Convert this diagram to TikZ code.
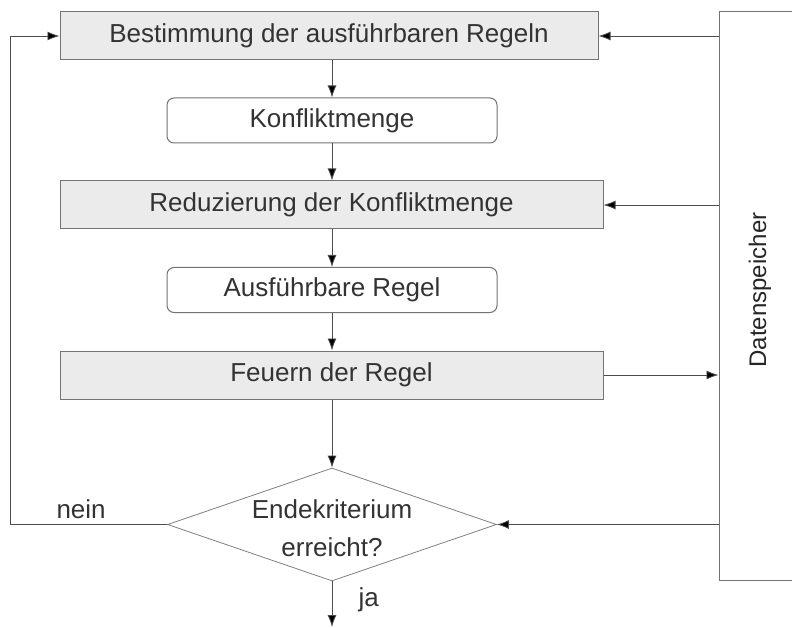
\documentclass[tikz,border=0pt]{standalone}
\usepackage{fontspec}
\setmainfont{Liberation Sans}
\usetikzlibrary{arrows.meta,shapes.geometric}
\begin{document}
\begin{tikzpicture}[x=1pt,y=-1pt,
  line/.style={draw=black!70, line width=0.8pt},
  arr/.style={line, -{Latex[length=12pt,width=9pt,fill=black]}},
  txt/.style={font=\fontsize{26}{38}\selectfont, text=black!80},
  graybox/.style={txt, draw=black!55, fill=black!8, line width=1pt, minimum height=48pt, inner sep=0pt},
  roundbox/.style={txt, draw=black!55, fill=white, line width=1pt, rounded corners=7pt, minimum width=330pt, minimum height=45pt, inner sep=0pt},
  decision/.style={diamond, draw=black!50, line width=0.8pt, fill=white, inner sep=0pt, minimum width=329pt, minimum height=113pt},
  store/.style={draw=black!55, line width=1pt, fill=white, inner sep=0pt, minimum width=90pt, minimum height=568pt}
]
\useasboundingbox (0,0) rectangle (792,628);
\node[graybox, minimum width=538pt] (b1) at (329,36) {Bestimmung der ausführbaren Regeln};
\node[roundbox] (b2) at (332,120.5) {Konfliktmenge};
\node[graybox, minimum width=543pt] (b3) at (331.5,205) {Reduzierung der Konfliktmenge};
\node[roundbox] (b4) at (332,290) {Ausführbare Regel};
\node[graybox, minimum width=543pt] (b5) at (331.5,375) {Feuern der Regel};
\node[decision] (d) at (332,524.5) {};
\node[txt, align=center] (dt) at (332,528) {Endekriterium\\erreicht?};
\node[store] (ds) at (764,296) {};
\node[rotate=90, font=\fontsize{24}{28}\selectfont, text=black!85] (dst) at (760,290) {Datenspeicher};
\coordinate (loop) at (10,524.5);
\coordinate (exit) at (332,627);

\draw[arr] (b2.north |- b1.south) -- (b2.north);
\draw[arr] (b2.south) -- (b2.south |- b3.north);
\draw[arr] (b4.north |- b3.south) -- (b4.north);
\draw[arr] (b4.south) -- (b4.south |- b5.north);
\draw[arr] (d.north |- b5.south) -- (d.north);
\draw[arr] (d.south) -- (exit);
\draw[arr] (d.west) -- (loop) |- (b1.west);
\draw[arr] (ds.west |- b1) -- (b1.east);
\draw[arr] (ds.west |- b3) -- (b3.east);
\draw[arr] (b5.east) -- (ds.west |- b5);
\draw[arr] (ds.west |- d) -- (d.east);

\node[txt, anchor=base west] (nein) at (53,518) {nein};
\node[txt, anchor=base west] (ja) at (355,606) {ja};
\end{tikzpicture}
\end{document}
